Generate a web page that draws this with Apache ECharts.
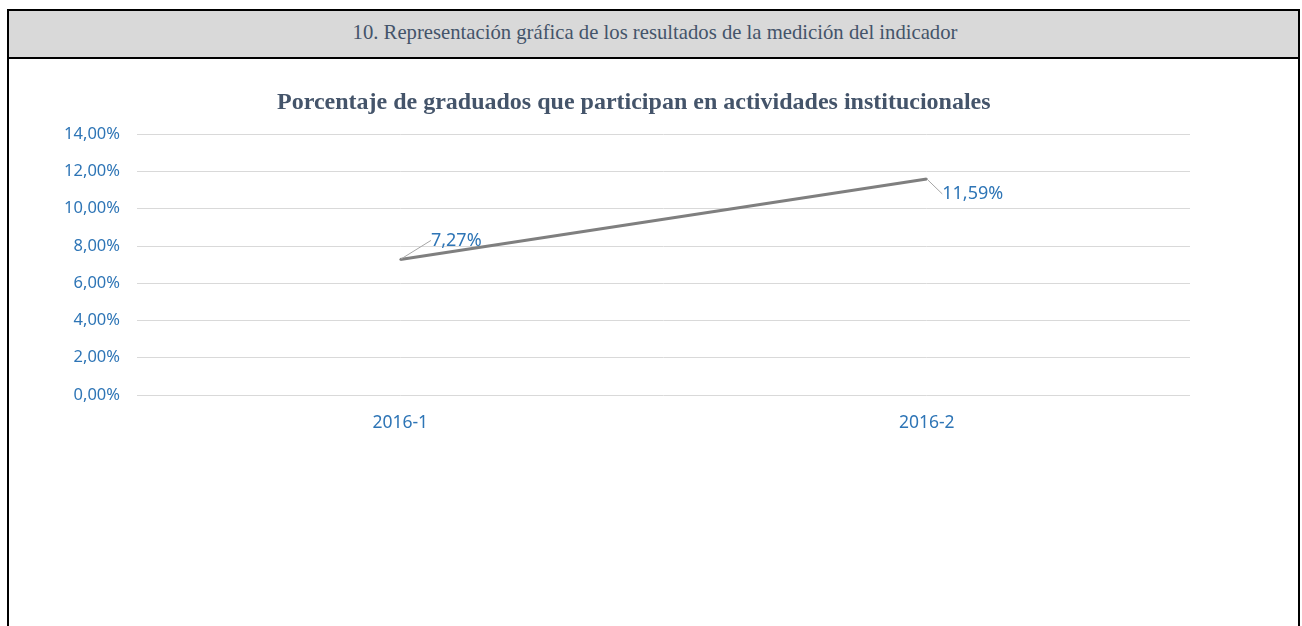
<!DOCTYPE html>
<html>
<head>
<meta charset="utf-8">
<script src="https://cdn.jsdelivr.net/npm/echarts@6/dist/echarts.min.js"></script>
<style>
    html, body { margin: 0; padding: 0; width: 1302px; height: 626px; overflow: hidden; background: #fff; }
    .box { position: absolute; left: 7px; top: 9px; width: 1289px; height: 640px; border: 2px solid #000; }
    .head { height: 46px; background: #d9d9d9; border-bottom: 2px solid #000; position: relative; }
    .head span { position: absolute; left: 646px; top: 10px; transform: translateX(-50%); white-space: nowrap;
        font-family: "Liberation Serif", "Times New Roman", serif; font-size: 20.7px; color: #44546a; }
    #chart { position: absolute; left: 0; top: 0; width: 1302px; height: 626px; }
</style>
</head>
<body>
<div class="box"><div class="head"><span>10. Representación gráfica de los resultados de la medición del indicador</span></div></div>
<div id="chart"></div>
<script>
    // datos del indicador
    var periodos = ['2016-1', '2016-2'];
    var porcentajes = [7.27, 11.59];
    var ticksY = [0, 2, 4, 6, 8, 10, 12, 14];

    var azul = '#2e75b6';
    var myChart = echarts.init(document.getElementById('chart'));

    // desplazamiento de cada etiqueta respecto a su punto
    var desplaz = [[56, -19], [46, 15]];

    var options = {
        animation: false,
        title: {
            text: 'Porcentaje de graduados que participan en actividades institucionales',
            left: 272,
            top: 86,
            textStyle: {
                fontFamily: '"Liberation Serif", "Times New Roman", serif',
                fontWeight: 'bold',
                fontSize: 24,
                color: '#44546a'
            }
        },
        grid: {
            left: 137,
            right: 112,
            top: 134,
            height: 261
        },
        xAxis: {
            type: 'category',
            data: periodos,
            boundaryGap: true,
            axisLine: { show: false },
            axisTick: { show: false },
            axisLabel: {
                margin: 19,
                color: azul,
                fontFamily: '"Noto Sans", sans-serif',
                fontSize: 17.5
            }
        },
        yAxis: {
            type: 'value',
            min: ticksY[0],
            max: ticksY[ticksY.length - 1],
            interval: 2,
            axisLine: { show: false },
            axisTick: { show: false },
            splitLine: { lineStyle: { color: '#d9d9d9', width: 1 } },
            axisLabel: {
                margin: 17,
                color: azul,
                fontFamily: '"Noto Sans", sans-serif',
                fontSize: 16.5,
                formatter: function (v) { return v.toFixed(2).replace('.', ',') + '%'; }
            }
        },
        series: [{
            type: 'line',
            data: porcentajes,
            symbol: 'circle',
            symbolSize: 2,
            showSymbol: true,
            itemStyle: { color: '#7f7f7f' },
            lineStyle: { color: '#7f7f7f', width: 3 },
            label: {
                show: true,
                position: 'inside',
                color: azul,
                fontFamily: '"Noto Sans", sans-serif',
                fontSize: 18,
                formatter: function (p) { return p.value.toFixed(2).replace('.', ',') + '%'; }
            },
            labelLine: {
                show: true,
                lineStyle: { color: '#a6a6a6', width: 1 }
            },
            labelLayout: function (p) {
                var d = desplaz[p.dataIndex];
                return { dx: d[0], dy: d[1] };
            }
        }]
    };
    myChart.setOption(options);
</script>
</body>
</html>
